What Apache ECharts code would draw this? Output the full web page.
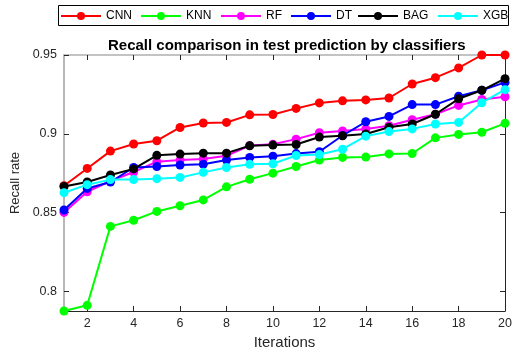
<!DOCTYPE html>
<html>
<head>
<meta charset="utf-8">
<script src="https://cdn.jsdelivr.net/npm/echarts@6/dist/echarts.min.js"></script>
<style>html,body{margin:0;padding:0;background:#fff}#c{width:515px;height:355px}</style>
</head>
<body>
<div id="c"></div>
<script>
const iterations = ['1','2','3','4','5','6','7','8','9','10','11','12','13','14','15','16','17','18','19','20'];
const yTicks = [0.8, 0.85, 0.9, 0.95];
const seriesNames = ['CNN','KNN','RF','DT','BAG','XGB'];
const seriesColors = ['#ff0000','#00ff00','#ff00ff','#0000ff','#000000','#00ffff'];
const CNN = [0.867, 0.878, 0.889, 0.8935, 0.8956, 0.904, 0.9068, 0.9072, 0.912, 0.9122, 0.9161, 0.9196, 0.9209, 0.9215, 0.9227, 0.9316, 0.9356, 0.9418, 0.950, 0.950];
const KNN = [0.7875, 0.7911, 0.8412, 0.8451, 0.8507, 0.8543, 0.858, 0.8663, 0.8711, 0.875, 0.8792, 0.8833, 0.885, 0.8852, 0.8872, 0.8875, 0.8974, 0.8996, 0.901, 0.9066];
const RF = [0.8501, 0.8632, 0.870, 0.8757, 0.8823, 0.8833, 0.8840, 0.886, 0.8925, 0.8933, 0.8966, 0.9007, 0.9018, 0.9031, 0.9051, 0.9089, 0.9124, 0.918, 0.9218, 0.9235];
const DT = [0.8516, 0.8653, 0.8694, 0.8786, 0.8792, 0.8802, 0.8806, 0.8833, 0.885, 0.8858, 0.8874, 0.8886, 0.8989, 0.9076, 0.911, 0.9185, 0.9185, 0.9238, 0.9276, 0.9326];
const BAG = [0.8665, 0.8694, 0.8738, 0.8777, 0.8863, 0.8871, 0.8877, 0.8877, 0.8924, 0.8928, 0.8932, 0.8979, 0.8987, 0.8999, 0.9041, 0.9062, 0.9124, 0.9222, 0.9276, 0.935];
const XGB = [0.8626, 0.8677, 0.8709, 0.8709, 0.8715, 0.8723, 0.8755, 0.8786, 0.8806, 0.881, 0.8862, 0.8868, 0.8902, 0.8985, 0.9014, 0.9031, 0.9062, 0.9072, 0.9197, 0.928];
const seriesData = [CNN, KNN, RF, DT, BAG, XGB];

const chart = echarts.init(document.getElementById('c'), null, {renderer: 'canvas'});
const FONT = 'Liberation Sans, Arial, sans-serif';
const yMin = 0.7875, yMax = 0.95;
const oddIdx = (i) => i % 2 === 1;
const legendLeft = [60, 140, 220, 290, 357, 437];

chart.setOption({
  animation: false,
  backgroundColor: '#fff',
  title: {
    text: 'Recall comparison in test prediction by classifiers',
    left: 108, top: 38, padding: 0,
    textStyle: {fontFamily: FONT, fontSize: 15, fontWeight: 'bold', color: '#000'}
  },
  graphic: [{
    type: 'rect', left: 58, top: 5, z: 0, silent: true,
    shape: {width: 450, height: 20},
    style: {fill: '#fff', stroke: '#000', lineWidth: 1}
  }],
  legend: seriesNames.map((n, k) => ({
    data: [n],
    left: legendLeft[k], top: 10,
    padding: 0,
    itemGap: 0,
    itemWidth: 40,
    itemHeight: 10,
    z: 5,
    textStyle: {fontFamily: FONT, fontSize: 12, color: '#000'}
  })),
  grid: {left: 64, right: 4, top: 55, bottom: 39.3, containLabel: false},
  xAxis: [{
    type: 'category', data: iterations, boundaryGap: false, position: 'bottom',
    name: 'Iterations', nameLocation: 'middle', nameGap: 24,
    nameTextStyle: {fontFamily: FONT, fontSize: 15, color: '#262626'},
    axisLine: {lineStyle: {color: '#262626', width: 1}},
    axisTick: {inside: true, length: 5, interval: oddIdx, lineStyle: {color: '#262626'}},
    axisLabel: {interval: oddIdx, margin: 6, fontFamily: FONT, fontSize: 12.5, color: '#262626'},
    splitLine: {show: false}
  }, {
    type: 'category', data: iterations, boundaryGap: false, position: 'top',
    axisLine: {lineStyle: {color: '#b0b0b0', width: 1.5}},
    axisTick: {inside: true, length: 5, interval: oddIdx, lineStyle: {color: '#262626'}},
    axisLabel: {show: false},
    splitLine: {show: false}
  }],
  yAxis: [{
    type: 'value', min: yMin, max: yMax, position: 'left',
    name: 'Recall rate', nameLocation: 'middle', nameGap: 33,
    nameTextStyle: {fontFamily: FONT, fontSize: 13, color: '#262626'},
    axisLine: {show: true, lineStyle: {color: '#a0a0a0', width: 1.5}},
    axisTick: {show: true, inside: true, length: 5, customValues: yTicks, lineStyle: {color: '#262626'}},
    axisLabel: {margin: 7, customValues: yTicks, fontFamily: FONT, fontSize: 12.5, color: '#262626'},
    splitLine: {show: false}
  }, {
    type: 'value', min: yMin, max: yMax, position: 'right',
    axisLine: {show: true, lineStyle: {color: '#262626', width: 1}},
    axisTick: {show: true, inside: true, length: 5, customValues: yTicks, lineStyle: {color: '#262626'}},
    axisLabel: {show: false},
    splitLine: {show: false}
  }],
  series: seriesNames.map((n, k) => ({
    name: n, type: 'line', data: seriesData[k],
    xAxisIndex: 0, yAxisIndex: 0,
    symbol: 'circle', symbolSize: 9, showSymbol: true,
    lineStyle: {width: 2, color: seriesColors[k]},
    itemStyle: {color: seriesColors[k]},
    emphasis: {disabled: true},
    z: 2 + k
  }))
});
</script>
</body>
</html>
